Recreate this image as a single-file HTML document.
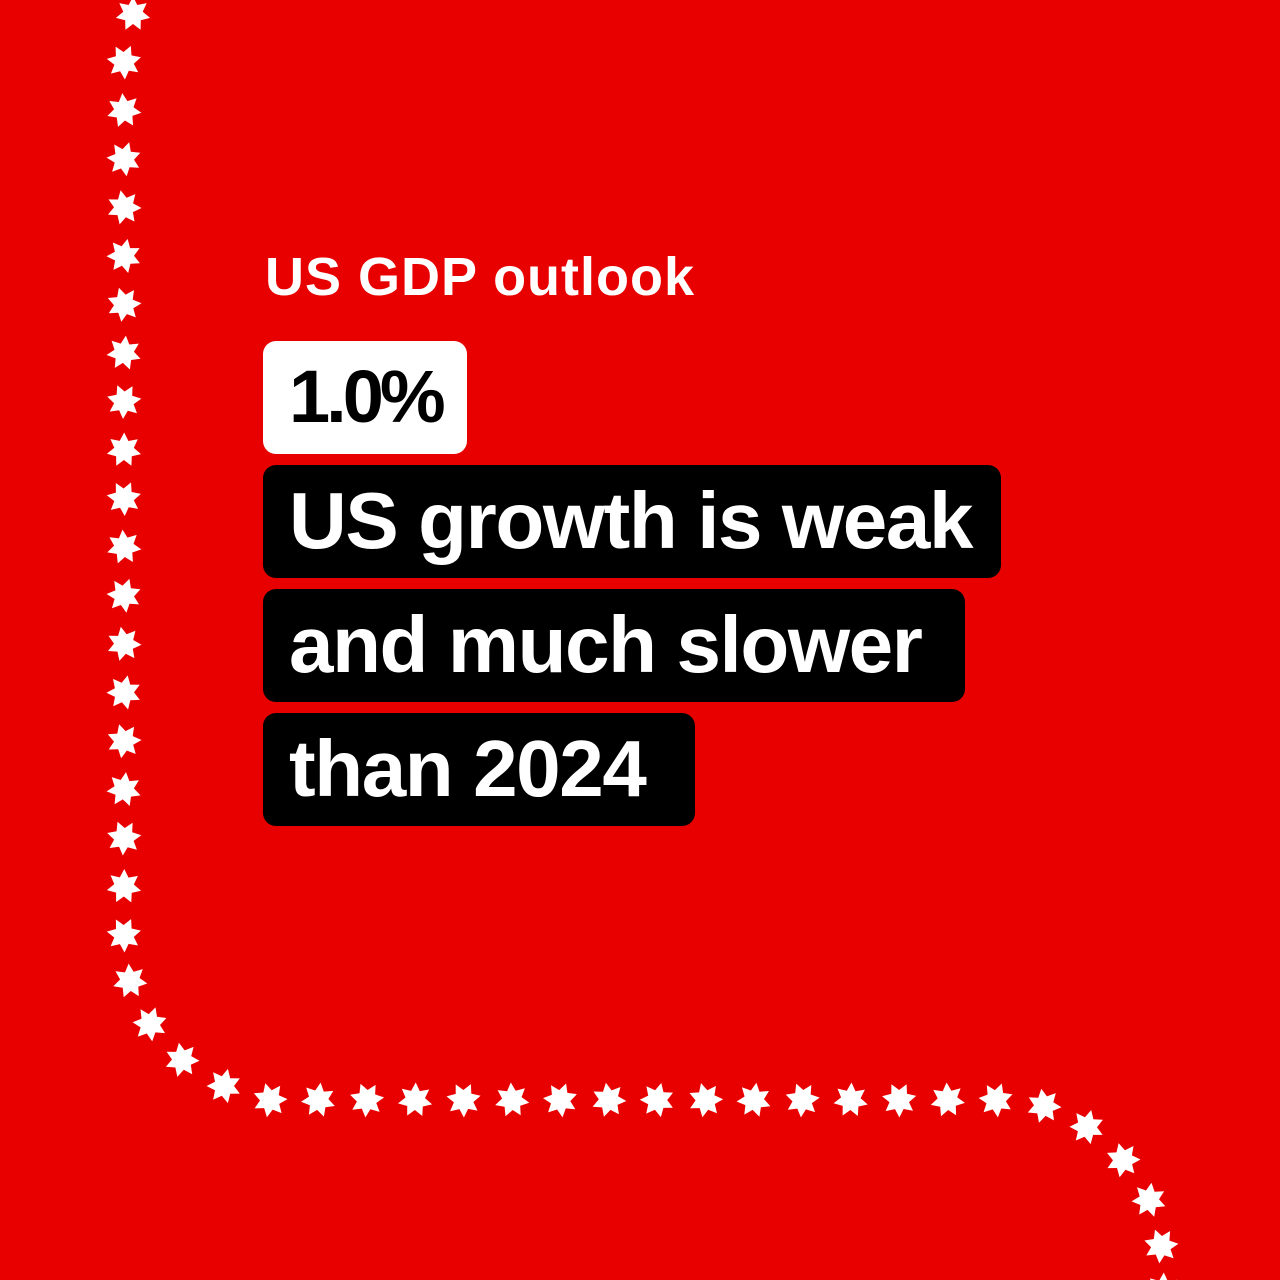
<!DOCTYPE html>
<html><head><meta charset="utf-8"><style>
html,body{margin:0;padding:0}
body{width:1280px;height:1280px;background:#e80000;position:relative;overflow:hidden;font-family:"Liberation Sans",sans-serif;font-weight:bold}
.t{position:absolute;color:#fff;font-size:54px;left:265px;top:246px;letter-spacing:1px;white-space:nowrap}
.b{position:absolute;left:263px;border-radius:13px;white-space:nowrap;box-sizing:border-box;padding-left:26px;font-size:80px;letter-spacing:-1.4px;line-height:111px}
.w{background:#fff;color:#000;top:341px;width:204px;height:113px;font-size:74px;letter-spacing:-4px}
.k{background:#000;color:#fff;height:113px}
svg{position:absolute;left:0;top:0}
</style></head><body>
<svg width="1280" height="1280" id="s"></svg>
<div class="t">US GDP outlook</div>
<div class="b w">1.0%</div>
<div class="b k" style="top:465px;width:738px">US growth is weak</div>
<div class="b k" style="top:589px;width:702px">and much slower</div>
<div class="b k" style="top:713px;width:432px">than 2024</div>
<script>
var pts=[[133,14]];
for(var y=62;y<=935;y+=48.5)pts.push([124,y]);
pts=pts.concat([[130,981],[150,1024],[182,1060],[224,1086]]);
for(var x=270;x<=1000;x+=48.4)pts.push([x,1100]);
pts=pts.concat([[1044,1106],[1087,1127],[1123,1160],[1149,1200],[1161,1246],[1163,1290]]);
var s='';
pts.forEach(function(p,i){var d='';for(var k=0;k<14;k++){var r=k%2?10:17.5;var a=-Math.PI/2+k*Math.PI/7+i*0.4;d+=(k?'L':'M')+(p[0]+r*Math.cos(a)).toFixed(1)+' '+(p[1]+r*Math.sin(a)).toFixed(1);}s+='<path d="'+d+'Z" fill="#fff"/>';});
document.getElementById('s').innerHTML=s;
</script>
</body></html>
